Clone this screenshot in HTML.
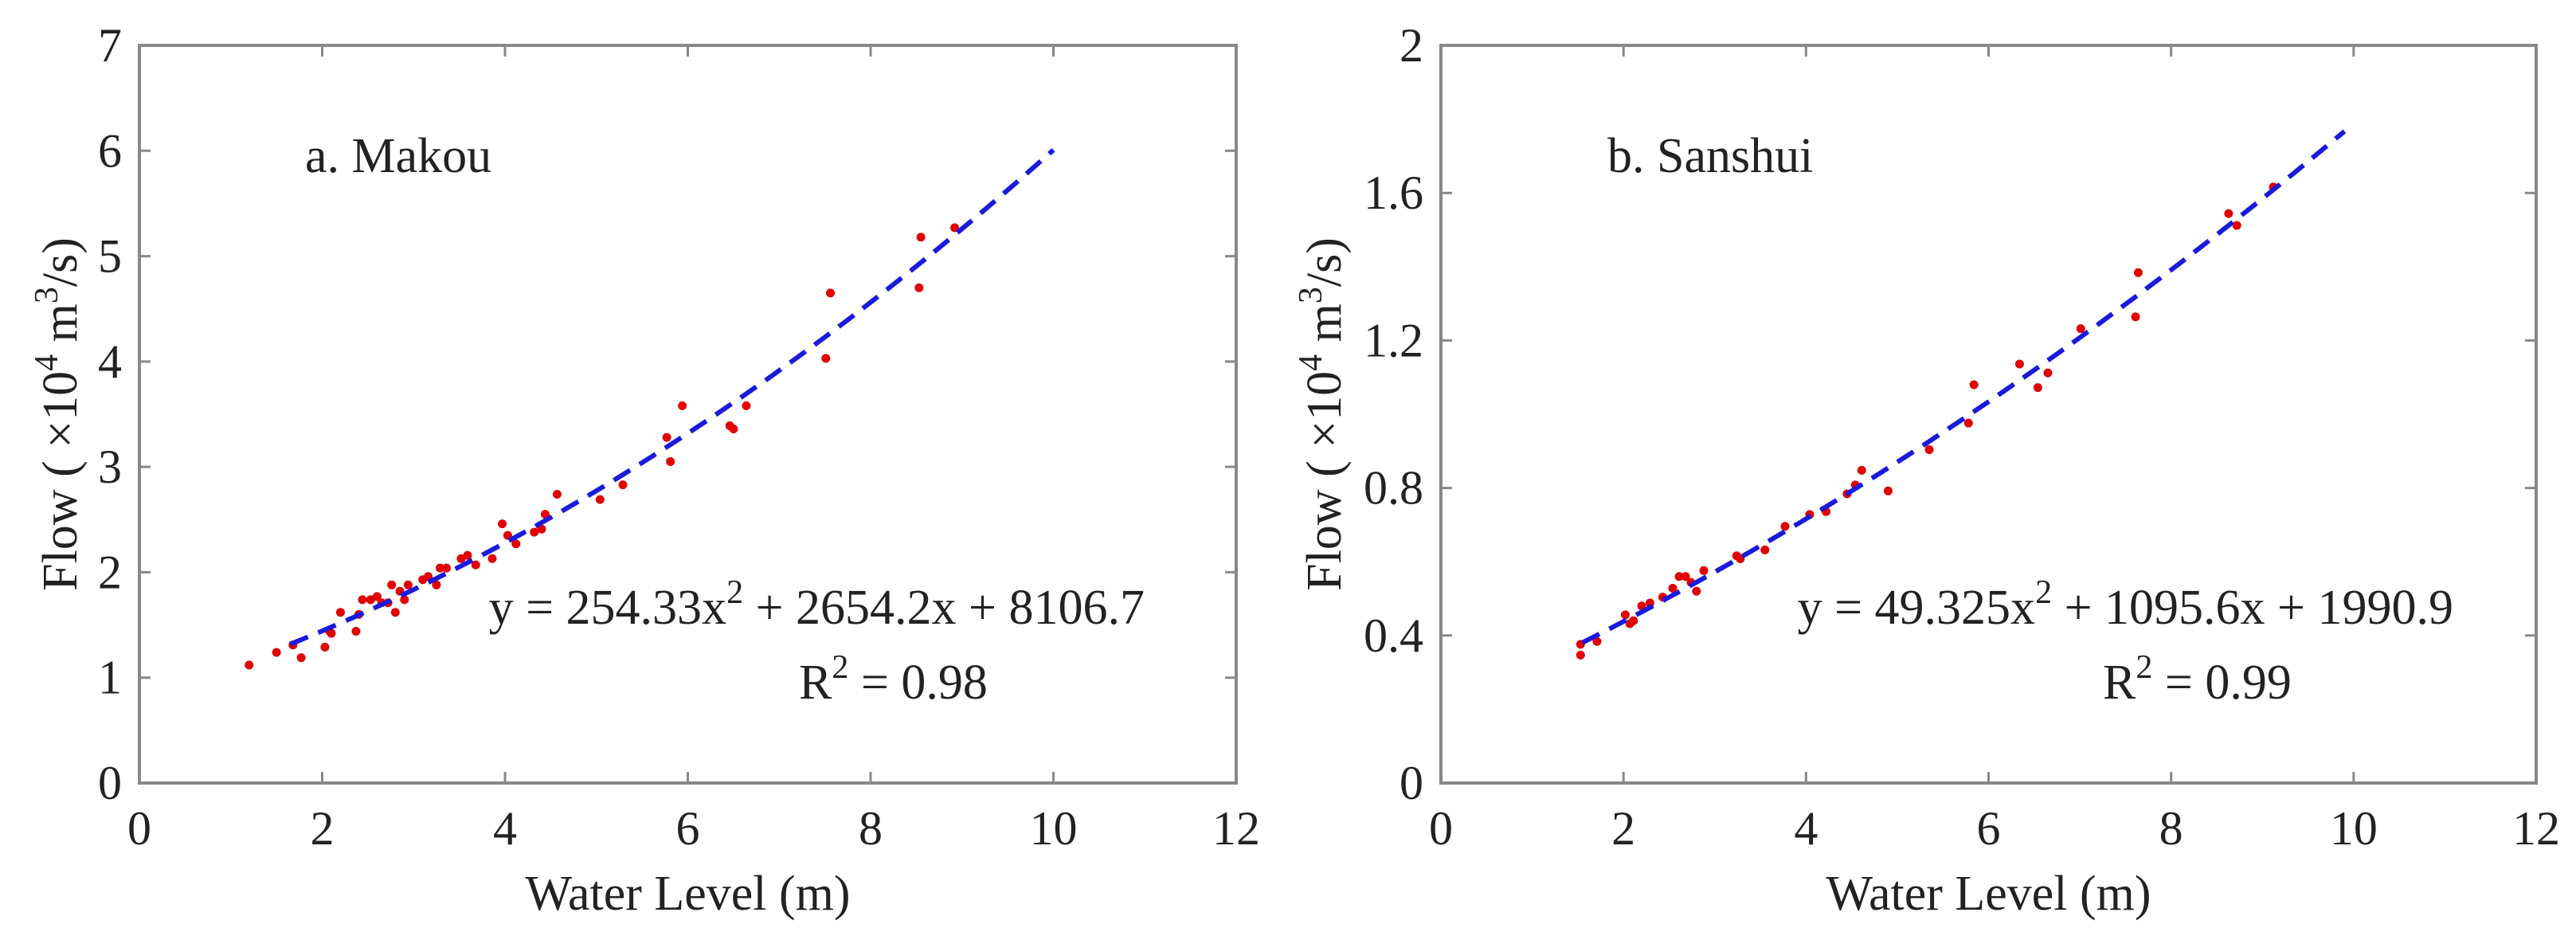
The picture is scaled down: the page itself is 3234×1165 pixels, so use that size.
<!DOCTYPE html>
<html><head><meta charset="utf-8"><style>
html,body{margin:0;padding:0;background:#fff;}
svg{display:block;font-family:"Liberation Serif",serif;}
</style></head><body>
<svg id="fig" width="3234" height="1165" viewBox="0 0 3234 1165"></svg>
<script>
const makouX=[1.2,1.5,1.68,1.77,2.03,2.08,2.1,2.2,2.37,2.4,2.44,2.53,2.6,2.65,2.72,2.76,2.8,2.85,2.9,2.94,3.1,3.16,3.25,3.29,3.36,3.52,3.59,3.68,3.86,3.97,4.03,4.12,4.32,4.4,4.44,4.57,5.04,5.29,5.77,5.81,5.94,6.46,6.5,6.64,7.51,7.56,8.53,8.55,8.92];
const makouY=[1.12,1.24,1.31,1.19,1.29,1.44,1.42,1.62,1.44,1.6,1.74,1.74,1.77,1.71,1.71,1.88,1.62,1.82,1.74,1.88,1.93,1.96,1.88,2.04,2.04,2.13,2.16,2.07,2.13,2.46,2.35,2.27,2.38,2.41,2.55,2.74,2.69,2.83,3.28,3.05,3.58,3.39,3.36,3.58,4.03,4.65,4.7,5.18,5.27];
const sanshuiX=[1.53,1.53,1.71,2.02,2.07,2.11,2.2,2.29,2.43,2.54,2.61,2.68,2.74,2.8,2.88,3.24,3.28,3.55,3.77,4.04,4.22,4.45,4.54,4.61,4.9,5.35,5.78,5.84,6.34,6.54,6.65,7.01,7.61,7.64,8.63,8.72,9.12];
const sanshuiY=[0.376,0.347,0.384,0.456,0.432,0.44,0.48,0.488,0.504,0.528,0.56,0.56,0.544,0.52,0.576,0.616,0.608,0.632,0.696,0.728,0.736,0.784,0.808,0.848,0.792,0.904,0.976,1.08,1.136,1.072,1.112,1.232,1.264,1.384,1.544,1.512,1.616];
const makouCoef=[254.33,2654.2,8106.7];
const sanshuiCoef=[49.325,1095.6,1990.9];
const makouFitRange=[1.65,10];
const sanshuiFitRange=[1.55,9.9];
const xTicks=[0,2,4,6,8,10,12];
const makouYTicks=[0,1,2,3,4,5,6,7];
const sanshuiYTicks=[0,0.4,0.8,1.2,1.6,2];
const sanshuiYTickLabels=["0","0.4","0.8","1.2","1.6","2"];

const NS="http://www.w3.org/2000/svg";
const svg=document.getElementById('fig');
function mk(tag,attrs,parent,text){const e=document.createElementNS(NS,tag);for(const k in attrs)e.setAttribute(k,attrs[k]);if(text!==undefined)e.textContent=text;(parent||svg).appendChild(e);return e;}

function panel(o){
  const g=mk('g',{});
  
  
  const L=o.left,R=o.right,T=57,B=983,W=R-L,H=B-T;
  const sx=v=>L+v/12*W, sy=v=>B-v/o.ymax*H;
  xTicks.forEach(t=>{
    const x=sx(t);
    const tk=mk('path',{d:`M${x},${B}v-14M${x},${T}v14`,stroke:'#888','stroke-width':3,fill:'none'},g);
    
    
    const lb=mk('text',{x:x,y:1060,'font-size':60,'text-anchor':'middle',fill:'#222'},g,String(t));
    
    
  });
  o.yticks.forEach((t,i)=>{
    const y=sy(t);
    const tk=mk('path',{d:`M${L},${y}h14M${R},${y}h-14`,stroke:'#888','stroke-width':3,fill:'none'},g);
    
    
    const lb=mk('text',{x:L-22,y:y+20,'font-size':60,'text-anchor':'end',fill:'#222'},g,o.ylabels?o.ylabels[i]:String(t));
    
    
  });
  const fr=mk('rect',{x:L,y:T,width:W,height:H,fill:'none',stroke:'#888','stroke-width':4},g);
  
  
  o.xs.forEach((xv,i)=>{
    const c=mk('circle',{cx:sx(xv),cy:sy(o.ys[i]),r:5.5,fill:'#e00000'},g);
    
    
  });
  let d='';const n=80;
  for(let k=0;k<=n;k++){const xv=o.range[0]+(o.range[1]-o.range[0])*k/n;const yv=(o.coef[0]*xv*xv+o.coef[1]*xv+o.coef[2])/1e4;d+=(k?'L':'M')+sx(xv).toFixed(1)+','+sy(yv).toFixed(1);}
  const fl=mk('path',{d:d,stroke:'#1a1adc','stroke-width':6,fill:'none','stroke-dasharray':'24,14'},g);
  
  
  const tt=mk('text',{x:o.titleX,y:216,'font-size':62,fill:'#222'},g,o.title);
  
  
  const eq=mk('text',{x:o.eqRight,y:783,'font-size':62,'text-anchor':'end',fill:'#222'},g);
  
  
  eq.innerHTML=`y = ${o.coef[0]}x<tspan dy="-26" font-size="42">2</tspan><tspan dy="26"> + ${o.coef[1]}x + ${o.coef[2]}</tspan>`;
  const r2=mk('text',{x:o.r2X,y:877,'font-size':62,fill:'#222'},g);
  
  
  r2.innerHTML=`R<tspan dy="-26" font-size="42">2</tspan><tspan dy="26"> = ${o.r2}</tspan>`;
  const xl=mk('text',{x:(L+R)/2,y:1142,'font-size':62,'text-anchor':'middle',fill:'#222'},g,'Water Level (m)');
  
  
  const yl=mk('text',{x:0,y:0,'font-size':62,'text-anchor':'middle',fill:'#222',transform:`translate(${o.ylX},${(T+B)/2}) rotate(-90)`},g);
  
  
  yl.innerHTML='Flow ( ×10<tspan dy="-24" font-size="42">4</tspan><tspan dy="24"> m</tspan><tspan dy="-24" font-size="42">3</tspan><tspan dy="24">/s)</tspan>';
}
panel({name:'panel-makou',left:175,right:1552,ymax:7,yticks:makouYTicks,xs:makouX,ys:makouY,coef:makouCoef,range:makouFitRange,title:'a. Makou',titleX:383,eqRight:1437,r2X:1003,r2:'0.98',ylX:96});
panel({name:'panel-sanshui',left:1809,right:3184,ymax:2,yticks:sanshuiYTicks,ylabels:sanshuiYTickLabels,xs:sanshuiX,ys:sanshuiY,coef:sanshuiCoef,range:sanshuiFitRange,title:'b. Sanshui',titleX:2018,eqRight:3080,r2X:2640,r2:'0.99',ylX:1683});
</script>
</body></html>
